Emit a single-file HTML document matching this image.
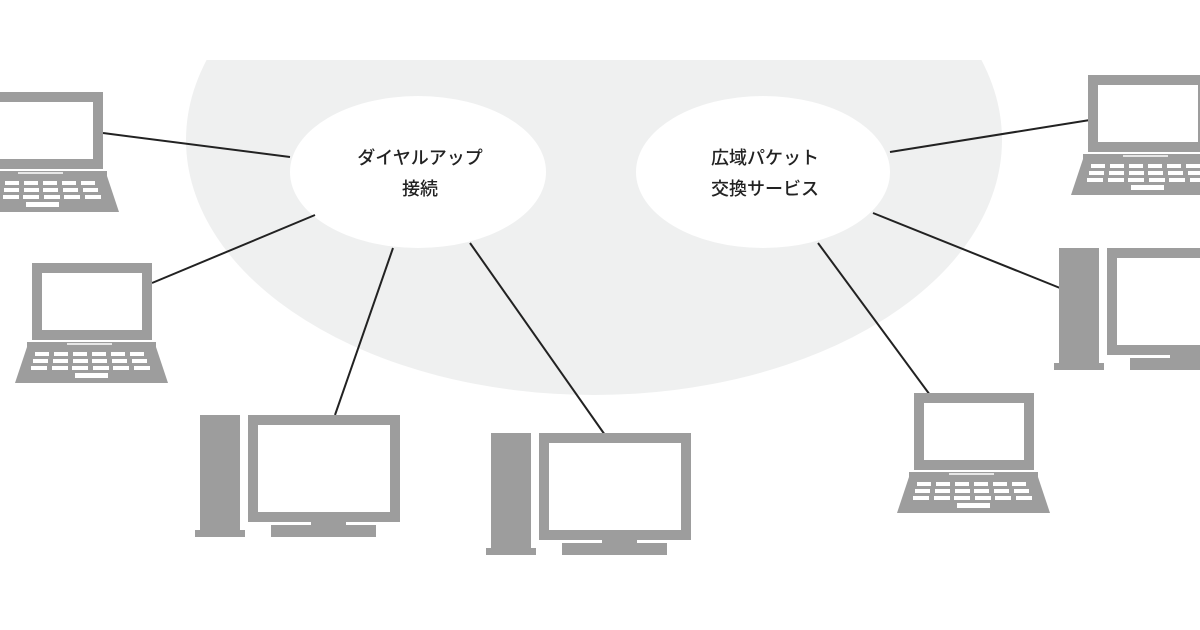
<!DOCTYPE html>
<html><head><meta charset="utf-8"><style>
html,body{margin:0;padding:0;background:#fff;}
svg{display:block}
text{font-family:"Liberation Sans","Noto Sans CJK JP",sans-serif;font-size:18px;fill:#222;text-anchor:middle;font-weight:500}
</style></head><body>
<svg width="1200" height="630" viewBox="0 0 1200 630">
<defs>
<g id="lap">
<rect x="17" y="0" width="120" height="77" fill="#9d9d9d"/>
<rect x="27" y="10" width="100" height="57" fill="#fff"/>
<rect x="12" y="79" width="129" height="5" fill="#9d9d9d"/>
<rect x="52" y="80" width="45" height="2" fill="#e6e6e6"/>
<polygon points="12,84 141,84 153,120 0,120" fill="#9d9d9d"/>
<g fill="#fff">
<rect x="20" y="89" width="14" height="4"/><rect x="39" y="89" width="14" height="4"/><rect x="58" y="89" width="14" height="4"/><rect x="77" y="89" width="14" height="4"/><rect x="96" y="89" width="14" height="4"/><rect x="115" y="89" width="14" height="4"/>
<rect x="18" y="96" width="15" height="4"/><rect x="38" y="96" width="15" height="4"/><rect x="58" y="96" width="15" height="4"/><rect x="77" y="96" width="15" height="4"/><rect x="97" y="96" width="15" height="4"/><rect x="117" y="96" width="15" height="4"/>
<rect x="16" y="103" width="16" height="4"/><rect x="37" y="103" width="16" height="4"/><rect x="57" y="103" width="16" height="4"/><rect x="78" y="103" width="16" height="4"/><rect x="98" y="103" width="16" height="4"/><rect x="119" y="103" width="16" height="4"/>
<rect x="60" y="110" width="33" height="5"/>
</g>
</g>
<g id="desk">
<rect x="5" y="0" width="40" height="120" fill="#9d9d9d"/>
<rect x="0" y="115" width="50" height="7" fill="#9d9d9d"/>
<rect x="53" y="0" width="152" height="107" fill="#9d9d9d"/>
<rect x="63" y="10" width="132" height="87" fill="#fff"/>
<rect x="116" y="107" width="35" height="6" fill="#9d9d9d"/>
<rect x="76" y="110" width="105" height="12" fill="#9d9d9d"/>
</g>
</defs>
<ellipse cx="594" cy="140" rx="408" ry="255" fill="#eff0f0"/>
<rect x="150" y="0" width="900" height="60" fill="#fff"/>
<ellipse cx="418" cy="172" rx="128" ry="76" fill="#fff"/>
<ellipse cx="763" cy="172" rx="127" ry="76" fill="#fff"/>
<g stroke="#222" stroke-width="2">
<line x1="103" y1="133" x2="290" y2="157"/>
<line x1="152" y1="283" x2="315" y2="215"/>
<line x1="335" y1="415" x2="393" y2="248"/>
<line x1="470" y1="243" x2="605" y2="435"/>
<line x1="890" y1="152" x2="1090" y2="120"/>
<line x1="873" y1="213" x2="1060" y2="288"/>
<line x1="818" y1="243" x2="930" y2="395"/>
</g>
<use href="#lap" x="-34" y="92"/>
<use href="#lap" x="15" y="263"/>
<use href="#lap" x="1071" y="75"/>
<use href="#lap" x="897" y="393"/>
<use href="#desk" x="195" y="415"/>
<use href="#desk" x="486" y="433"/>
<use href="#desk" x="1054" y="248"/>
<text x="420" y="164">ダイヤルアップ</text>
<text x="420" y="195">接続</text>
<text x="765" y="164">広域パケット</text>
<text x="765" y="195">交換サービス</text>
</svg>
</body></html>
